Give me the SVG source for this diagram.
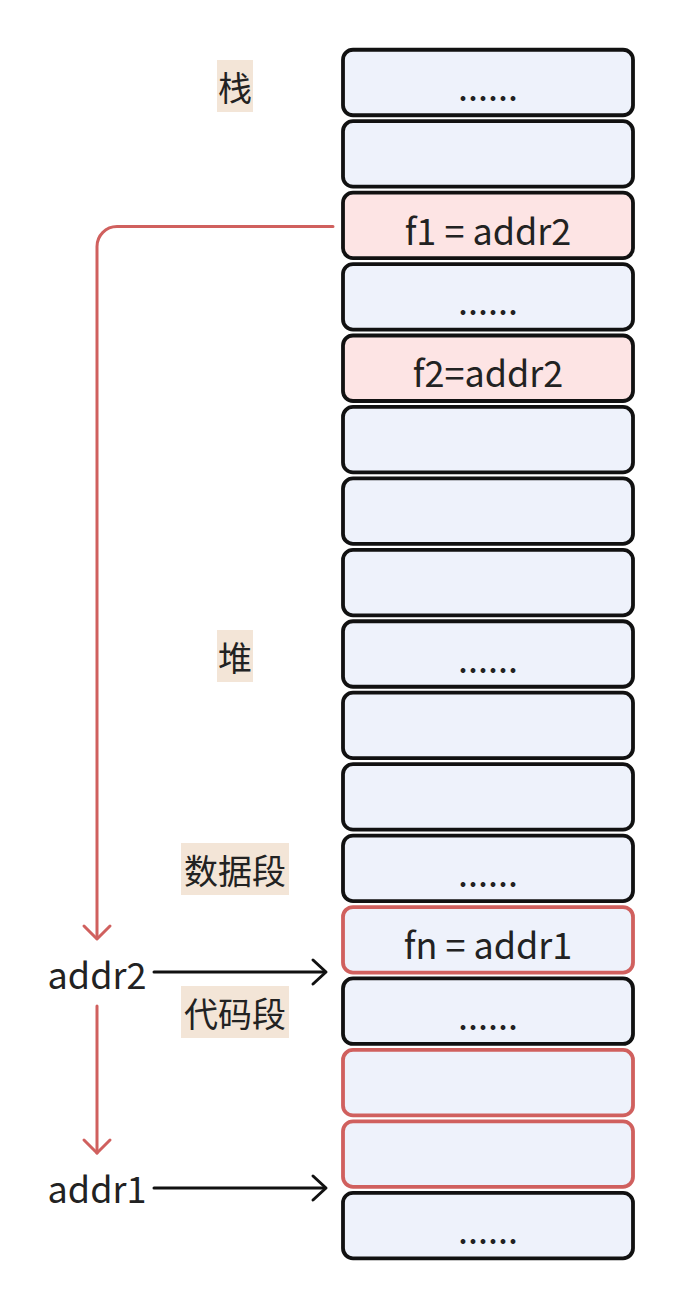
<svg xmlns="http://www.w3.org/2000/svg" width="684" height="1310" viewBox="0 0 684 1310">
<defs>
<style>
.box{fill:#eef2fb;stroke:#111;stroke-width:3.8}
.pink{fill:#fde4e4}
.red{stroke:#d0605e}
.t{font-family:"Noto Sans CJK SC","Noto Sans",sans-serif;font-size:36px;fill:#222;text-anchor:middle}
.lbg{fill:#f3e5d7}
.lt{font-family:"Noto Sans CJK SC",sans-serif;font-size:34px;fill:#222;text-anchor:middle;dominant-baseline:central}
.rl{fill:none;stroke:#d0605e;stroke-width:3;stroke-linecap:round;stroke-linejoin:round}
.bl{fill:none;stroke:#111;stroke-width:3;stroke-linecap:round;stroke-linejoin:round}
</style>
</defs>
<rect width="684" height="1310" fill="#ffffff"/>
<g id="labels">
<g id="label-stack"><rect class="lbg" x="217" y="60" width="36" height="52"/><text class="lt" x="235" y="86">栈</text></g>
<g id="label-heap"><rect class="lbg" x="217" y="630" width="36" height="52"/><text class="lt" x="235" y="656">堆</text></g>
<g id="label-data"><rect class="lbg" x="181" y="843" width="108" height="52"/><text class="lt" x="235" y="869">数据段</text></g>
<g id="label-code"><rect class="lbg" x="181" y="986" width="108" height="52"/><text class="lt" x="235" y="1012">代码段</text></g>
</g>
<g id="cells">
<g id="cell0"><rect class="box" x="343" y="49.75" width="290" height="65.5" rx="10"/><text class="t" x="488" y="101">......</text></g>
<g id="cell1"><rect class="box" x="343" y="121.19" width="290" height="65.5" rx="10"/></g>
<g id="cell2"><rect class="box pink" x="343" y="192.63" width="290" height="65.5" rx="10"/><text class="t" x="488" y="244.5">f1 = addr2</text></g>
<g id="cell3"><rect class="box" x="343" y="264.07" width="290" height="65.5" rx="10"/><text class="t" x="488" y="315.3">......</text></g>
<g id="cell4"><rect class="box pink" x="343" y="335.51" width="290" height="65.5" rx="10"/><text class="t" x="488" y="386.8">f2=addr2</text></g>
<g id="cell5"><rect class="box" x="343" y="406.95" width="290" height="65.5" rx="10"/></g>
<g id="cell6"><rect class="box" x="343" y="478.39" width="290" height="65.5" rx="10"/></g>
<g id="cell7"><rect class="box" x="343" y="549.83" width="290" height="65.5" rx="10"/></g>
<g id="cell8"><rect class="box" x="343" y="621.27" width="290" height="65.5" rx="10"/><text class="t" x="488" y="672.5">......</text></g>
<g id="cell9"><rect class="box" x="343" y="692.71" width="290" height="65.5" rx="10"/></g>
<g id="cell10"><rect class="box" x="343" y="764.15" width="290" height="65.5" rx="10"/></g>
<g id="cell11"><rect class="box" x="343" y="835.59" width="290" height="65.5" rx="10"/><text class="t" x="488" y="886.8">......</text></g>
<g id="cell12"><rect class="box red" x="343" y="907.03" width="290" height="65.5" rx="10"/><text class="t" x="488" y="958.5">fn = addr1</text></g>
<g id="cell13"><rect class="box" x="343" y="978.47" width="290" height="65.5" rx="10"/><text class="t" x="488" y="1029.7">......</text></g>
<g id="cell14"><rect class="box red" x="343" y="1049.91" width="290" height="65.5" rx="10"/></g>
<g id="cell15"><rect class="box red" x="343" y="1121.35" width="290" height="65.5" rx="10"/></g>
<g id="cell16"><rect class="box" x="343" y="1192.79" width="290" height="65.5" rx="10"/><text class="t" x="488" y="1244">......</text></g>
</g>
<g id="addresses">
<g id="addr2"><text class="t" x="97" y="988.5">addr2</text></g>
<g id="addr1"><text class="t" x="97" y="1202.5">addr1</text></g>
</g>
<g id="connectors">
<path class="rl" d="M333,226.5 H117 A20,20 0 0 0 97,246.5 V938"/>
<path class="rl" d="M84,926 L97,939 L110,926"/>
<path class="rl" d="M97,1006 V1153"/>
<path class="rl" d="M84,1140 L97,1153 L110,1140"/>
<path class="bl" d="M154,972 H325"/>
<path class="bl" d="M313,960 L326,972 L313,984"/>
<path class="bl" d="M154,1188 H325"/>
<path class="bl" d="M313,1176 L326,1188 L313,1200"/>
</g>
</svg>
